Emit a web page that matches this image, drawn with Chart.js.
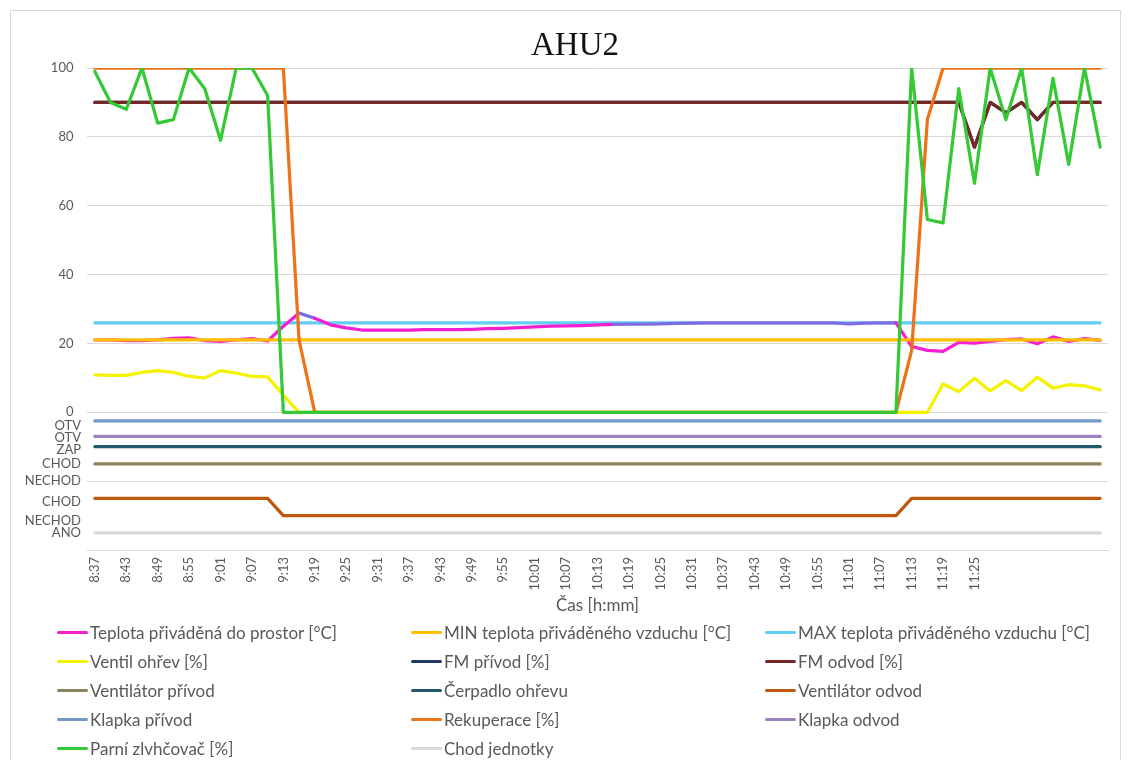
<!DOCTYPE html>
<html lang="cs">
<head>
<meta charset="utf-8">
<title>AHU2</title>
<script src="https://cdn.jsdelivr.net/npm/chart.js@4.4.1/dist/chart.umd.min.js"></script>
<style>
  html, body { margin: 0; padding: 0; background: #fff; }
  body { width: 1130px; height: 760px; position: relative; overflow: hidden; font-family: Lato, sans-serif; }
  #frame { position: absolute; left: 10px; top: 10px; width: 1109px; height: 780px; border: 1px solid #d9d9d9; }
  #chart { position: absolute; left: 0; top: 0; }
  #title { position: absolute; left: 475px; top: 28px; width: 200px; text-align: center; font: 33px/1 "Liberation Serif", serif; color: #111; }
  #legend { position: absolute; left: 57px; top: 618px; display: grid; grid-template-columns: 354px 354px 354px; grid-auto-rows: 29px; font-size: 17px; color: #595959; }
  .item { display: flex; align-items: center; white-space: nowrap; }
  .swatch { display: inline-block; width: 31px; height: 3px; border-radius: 1.5px; margin-right: 2px; }
</style>
</head>
<body>
<div id="frame"></div>
<canvas id="chart" width="1130" height="760"></canvas>
<div id="title">AHU2</div>
<div id="legend"></div>
<script>
// samples every 3 minutes; only every second one gets a label
const times = [
  '8:37', '8:40', '8:43', '8:46', '8:49', '8:52', '8:55', '8:58',
  '9:01', '9:04', '9:07', '9:10', '9:13', '9:16', '9:19', '9:22', '9:25', '9:28', '9:31', '9:34',
  '9:37', '9:40', '9:43', '9:46', '9:49', '9:52', '9:55', '9:58',
  '10:01', '10:04', '10:07', '10:10', '10:13', '10:16', '10:19', '10:22', '10:25', '10:28', '10:31', '10:34',
  '10:37', '10:40', '10:43', '10:46', '10:49', '10:52', '10:55', '10:58',
  '11:01', '11:04', '11:07', '11:10', '11:13', '11:16', '11:19', '11:22', '11:25',
  '', '', '', '', '', '', '', ''
];

// left axis: numbers for analog values, state names for the binary signals below zero
const yTickValues = [100, 80, 60, 40, 20, 0, -4, -7.5, -11, -15, -20, -26, -31.5, -35, -40];
const yTickLabels = ['100', '80', '60', '40', '20', '0', 'OTV', 'OTV', 'ZAP', 'CHOD', 'NECHOD', 'CHOD', 'NECHOD', 'ANO', ''];

const teplota = [
  21.0, 21.0, 20.8, 20.8, 21.0, 21.5, 21.6, 20.8, 20.6, 21.0, 21.4, 20.7, 25.0,
  28.8, 27.3, 25.4, 24.5, 23.9, 23.9, 23.9, 23.9, 24.0, 24.0, 24.0, 24.1, 24.3,
  24.4, 24.6, 24.8, 25.0, 25.1, 25.2, 25.4, 25.5, 25.6, 25.6, 25.7, 25.8, 25.9,
  26.0, 26.0, 26.0, 26.0, 26.0, 26.0, 26.0, 26.0, 26.0, 25.7, 25.9, 26.0, 26.0,
  19.1, 18.0, 17.7, 20.3, 20.1, 20.6, 21.1, 21.3, 19.9, 21.9, 20.6, 21.4, 20.9
];
const minTeplota = [
  21, 21, 21, 21, 21, 21, 21, 21, 21, 21, 21, 21, 21,
  21, 21, 21, 21, 21, 21, 21, 21, 21, 21, 21, 21, 21,
  21, 21, 21, 21, 21, 21, 21, 21, 21, 21, 21, 21, 21,
  21, 21, 21, 21, 21, 21, 21, 21, 21, 21, 21, 21, 21,
  21, 21, 21, 21, 21, 21, 21, 21, 21, 21, 21, 21, 21
];
const maxTeplota = [
  26, 26, 26, 26, 26, 26, 26, 26, 26, 26, 26, 26, 26,
  26, 26, 26, 26, 26, 26, 26, 26, 26, 26, 26, 26, 26,
  26, 26, 26, 26, 26, 26, 26, 26, 26, 26, 26, 26, 26,
  26, 26, 26, 26, 26, 26, 26, 26, 26, 26, 26, 26, 26,
  26, 26, 26, 26, 26, 26, 26, 26, 26, 26, 26, 26, 26
];
const ventilOhrev = [
  10.9, 10.7, 10.7, 11.6, 12.1, 11.6, 10.4, 10.0, 12.1, 11.4, 10.4, 10.3, 5.0,
  0, 0, 0, 0, 0, 0, 0, 0, 0, 0, 0, 0, 0,
  0, 0, 0, 0, 0, 0, 0, 0, 0, 0, 0, 0, 0,
  0, 0, 0, 0, 0, 0, 0, 0, 0, 0, 0, 0, 0,
  0, 0, 8.2, 6.0, 9.9, 6.2, 9.2, 6.3, 10.2, 7.0, 8.0, 7.7, 6.5
];
const fmPrivod = [
  90, 90, 90, 90, 90, 90, 90, 90, 90, 90, 90, 90, 90,
  90, 90, 90, 90, 90, 90, 90, 90, 90, 90, 90, 90, 90,
  90, 90, 90, 90, 90, 90, 90, 90, 90, 90, 90, 90, 90,
  90, 90, 90, 90, 90, 90, 90, 90, 90, 90, 90, 90, 90,
  90, 90, 90, 90, 77, 90, 87, 90, 85, 90, 90, 90, 90
];
const fmOdvod = [
  90, 90, 90, 90, 90, 90, 90, 90, 90, 90, 90, 90, 90,
  90, 90, 90, 90, 90, 90, 90, 90, 90, 90, 90, 90, 90,
  90, 90, 90, 90, 90, 90, 90, 90, 90, 90, 90, 90, 90,
  90, 90, 90, 90, 90, 90, 90, 90, 90, 90, 90, 90, 90,
  90, 90, 90, 90, 77, 90, 87, 90, 85, 90, 90, 90, 90
];
const ventilatorPrivod = [
  -15, -15, -15, -15, -15, -15, -15, -15, -15, -15, -15, -15, -15,
  -15, -15, -15, -15, -15, -15, -15, -15, -15, -15, -15, -15, -15,
  -15, -15, -15, -15, -15, -15, -15, -15, -15, -15, -15, -15, -15,
  -15, -15, -15, -15, -15, -15, -15, -15, -15, -15, -15, -15, -15,
  -15, -15, -15, -15, -15, -15, -15, -15, -15, -15, -15, -15, -15
];
const cerpadlo = [
  -10, -10, -10, -10, -10, -10, -10, -10, -10, -10, -10, -10, -10,
  -10, -10, -10, -10, -10, -10, -10, -10, -10, -10, -10, -10, -10,
  -10, -10, -10, -10, -10, -10, -10, -10, -10, -10, -10, -10, -10,
  -10, -10, -10, -10, -10, -10, -10, -10, -10, -10, -10, -10, -10,
  -10, -10, -10, -10, -10, -10, -10, -10, -10, -10, -10, -10, -10
];
const ventilatorOdvod = [
  -25, -25, -25, -25, -25, -25, -25, -25, -25, -25, -25, -25, -30,
  -30, -30, -30, -30, -30, -30, -30, -30, -30, -30, -30, -30, -30,
  -30, -30, -30, -30, -30, -30, -30, -30, -30, -30, -30, -30, -30,
  -30, -30, -30, -30, -30, -30, -30, -30, -30, -30, -30, -30, -30,
  -25, -25, -25, -25, -25, -25, -25, -25, -25, -25, -25, -25, -25
];
const klapkaPrivod = [
  -2.5, -2.5, -2.5, -2.5, -2.5, -2.5, -2.5, -2.5, -2.5, -2.5, -2.5, -2.5, -2.5,
  -2.5, -2.5, -2.5, -2.5, -2.5, -2.5, -2.5, -2.5, -2.5, -2.5, -2.5, -2.5, -2.5,
  -2.5, -2.5, -2.5, -2.5, -2.5, -2.5, -2.5, -2.5, -2.5, -2.5, -2.5, -2.5, -2.5,
  -2.5, -2.5, -2.5, -2.5, -2.5, -2.5, -2.5, -2.5, -2.5, -2.5, -2.5, -2.5, -2.5,
  -2.5, -2.5, -2.5, -2.5, -2.5, -2.5, -2.5, -2.5, -2.5, -2.5, -2.5, -2.5, -2.5
];
const rekuperace = [
  100, 100, 100, 100, 100, 100, 100, 100, 100, 100, 100, 100, 100,
  21, 0, 0, 0, 0, 0, 0, 0, 0, 0, 0, 0, 0,
  0, 0, 0, 0, 0, 0, 0, 0, 0, 0, 0, 0, 0,
  0, 0, 0, 0, 0, 0, 0, 0, 0, 0, 0, 0, 0,
  18, 85, 100, 100, 100, 100, 100, 100, 100, 100, 100, 100, 100
];
const klapkaOdvod = [
  -7, -7, -7, -7, -7, -7, -7, -7, -7, -7, -7, -7, -7,
  -7, -7, -7, -7, -7, -7, -7, -7, -7, -7, -7, -7, -7,
  -7, -7, -7, -7, -7, -7, -7, -7, -7, -7, -7, -7, -7,
  -7, -7, -7, -7, -7, -7, -7, -7, -7, -7, -7, -7, -7,
  -7, -7, -7, -7, -7, -7, -7, -7, -7, -7, -7, -7, -7
];
const parniZvlhcovac = [
  99, 90, 88, 100, 84, 85, 100, 94, 79, 100, 100, 92, 0,
  0, 0, 0, 0, 0, 0, 0, 0, 0, 0, 0, 0, 0,
  0, 0, 0, 0, 0, 0, 0, 0, 0, 0, 0, 0, 0,
  0, 0, 0, 0, 0, 0, 0, 0, 0, 0, 0, 0, 0,
  100, 56, 55, 94, 66.5, 100, 85, 100, 69, 97, 72, 100, 77
];
const chodJednotky = [
  -35, -35, -35, -35, -35, -35, -35, -35, -35, -35, -35, -35, -35,
  -35, -35, -35, -35, -35, -35, -35, -35, -35, -35, -35, -35, -35,
  -35, -35, -35, -35, -35, -35, -35, -35, -35, -35, -35, -35, -35,
  -35, -35, -35, -35, -35, -35, -35, -35, -35, -35, -35, -35, -35,
  -35, -35, -35, -35, -35, -35, -35, -35, -35, -35, -35, -35, -35
];

// z = stacking position, 0 at the bottom; Chart.js draws lower "order" on top
function line(label, data, color, z, extra) {
  return Object.assign({ label, data, borderColor: color, backgroundColor: color, order: 20 - z }, extra || {});
}

const datasets = [
  line('Teplota přiváděná do prostor [°C]', teplota, '#f41fd0', 1, {
    // where it runs along the MAX limit the two lines blend into violet
    segment: { borderColor: c => (c.p0.parsed.y >= 25.5 && c.p1.parsed.y >= 25.5 ? '#7f6be3' : undefined) }
  }),
  line('MIN teplota přiváděného vzduchu [°C]', minTeplota, '#ffbe00', 2),
  line('MAX teplota přiváděného vzduchu [°C]', maxTeplota, '#62cff2', 0),
  line('Ventil ohřev [%]', ventilOhrev, '#f5f200', 3),
  line('FM přívod [%]', fmPrivod, '#1f3864', 4),
  line('FM odvod [%]', fmOdvod, '#742828', 5),
  line('Ventilátor přívod', ventilatorPrivod, '#8c8458', 6),
  line('Čerpadlo ohřevu', cerpadlo, '#22596a', 7),
  line('Ventilátor odvod', ventilatorOdvod, '#c0570f', 8),
  line('Klapka přívod', klapkaPrivod, '#7398c6', 9),
  line('Rekuperace [%]', rekuperace, '#ec7316', 10),
  line('Klapka odvod', klapkaOdvod, '#9a82c0', 11),
  line('Parní zlvhčovač [%]', parniZvlhcovac, '#35c935', 12),
  line('Chod jednotky', chodJednotky, '#d9d9d9', 13)
];

const axisFont = { family: 'Lato', size: 13 };

const chart = new Chart(document.getElementById('chart').getContext('2d'), {
  type: 'line',
  data: { labels: times, datasets },
  options: {
    responsive: false,
    animation: false,
    devicePixelRatio: 1,
    layout: { padding: { left: 10, top: 68, right: 22, bottom: 140 } },
    plugins: {
      legend: { display: false },
      title: { display: false },
      tooltip: { enabled: false }
    },
    elements: {
      point: { radius: 0, hoverRadius: 0 },
      line: { borderWidth: 3.25, tension: 0, borderCapStyle: 'round', borderJoinStyle: 'round' }
    },
    scales: {
      x: {
        offset: true,
        grid: { display: false, drawTicks: false },
        border: { display: true, color: '#d9d9d9', width: 1 },
        ticks: {
          autoSkip: false,
          maxRotation: 90,
          minRotation: 90,
          padding: 7,
          color: '#595959',
          font: axisFont,
          callback: (v, i) => (i % 2 === 0 ? times[i] : '')
        },
        title: {
          display: true,
          text: 'Čas [h:mm]',
          color: '#595959',
          font: { family: 'Lato', size: 17 },
          padding: { top: 0, bottom: 4 }
        },
        afterFit: s => { s.height = 70; }
      },
      y: {
        min: -40,
        max: 100,
        afterBuildTicks: s => { s.ticks = yTickValues.map(v => ({ value: v })); },
        afterFit: s => { s.width = 77; },
        grid: {
          drawTicks: false,
          color: c => (c.tick && c.tick.value % 20 === 0 ? '#d9d9d9' : 'rgba(0,0,0,0)')
        },
        border: { display: false },
        ticks: {
          autoSkip: false,
          padding: 6,
          color: '#595959',
          font: axisFont,
          // numbers sit a little further from the plot than the state names
          callback: (v, i) => (yTickValues[i] >= 0 ? yTickLabels[i] + '\u2007' : yTickLabels[i])
        }
      }
    }
  }
});

// legend in three fixed columns, filled row by row
const legendBox = document.getElementById('legend');
chart.data.datasets.forEach(ds => {
  const item = document.createElement('div');
  item.className = 'item';
  const swatch = document.createElement('span');
  swatch.className = 'swatch';
  swatch.style.background = ds.borderColor;
  item.appendChild(swatch);
  item.appendChild(document.createTextNode(ds.label));
  legendBox.appendChild(item);
});
</script>
</body>
</html>
